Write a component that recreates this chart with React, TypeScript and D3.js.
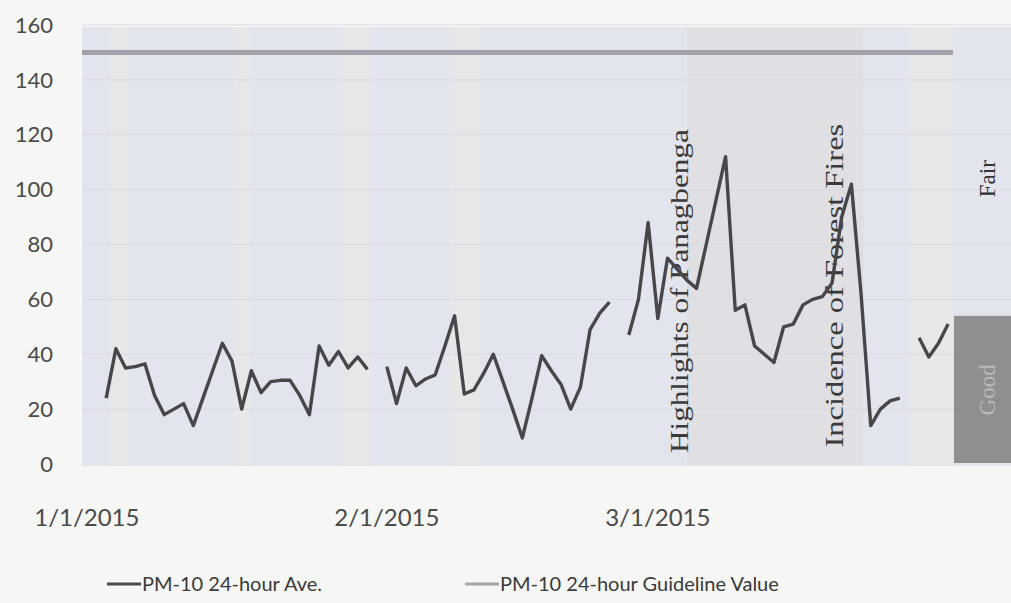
import { useEffect, useRef } from 'react';
import * as d3 from 'd3';

const DAY = 86400000;

// daily PM-10 24-hour averages, first value on Jan 3 2015 (null = no reading)
const firstReading = Date.UTC(2015, 0, 3);
const pm10Ave: (number | null)[] = [
  // Jan 3 - Jan 30
  24, 42, 35, 35.5, 36.5, 25, 18, 20, 22, 14, 24, 34, 44, 37.5, 20, 34, 26, 30, 30.5, 30.5,
  25, 18, 43, 36, 41, 35, 39, 34.5,
  null,
  // Feb 1 - Feb 24
  35.5, 22, 35, 28.5, 31, 32.5, 43, 54, 25.5, 27, 33, 40, 30, 20, 9.5, 24, 39.5, 34, 29, 20,
  28, 49, 55, 59,
  null,
  // Feb 26 - Mar 26
  47, 60, 88, 53, 75, 71, 67, 64, 80, 96, 112, 56, 58, 43, 40, 37, 50, 51, 58, 60,
  61, 66, 90, 102, 62, 14, 20, 23, 24,
  null,
  // Mar 28 - Mar 31
  46, 39, 44, 51,
];

const guidelineValue = 150;
const yTicks = [0, 20, 40, 60, 80, 100, 120, 140, 160];
const xTicks = [Date.UTC(2015, 0, 1), Date.UTC(2015, 1, 1), Date.UTC(2015, 2, 1)];

const annotations = [
  { label: 'Highlights of Panagbenga', date: Date.UTC(2015, 2, 4, 2), from: 4, to: 122 },
  { label: 'Incidence of Forest Fires', date: Date.UTC(2015, 2, 20, 2), from: 6, to: 124 },
];

const eventBand = [Date.UTC(2015, 2, 4), Date.UTC(2015, 2, 22, 6)];
const lightBands = [
  [Date.UTC(2015, 0, 3, 10), Date.UTC(2015, 0, 5, 5)],
  [Date.UTC(2015, 0, 16, 3), Date.UTC(2015, 0, 17, 22)],
  [Date.UTC(2015, 0, 27, 5), Date.UTC(2015, 0, 30, 10)],
  [Date.UTC(2015, 1, 7, 12), Date.UTC(2015, 1, 10, 14)],
  [Date.UTC(2015, 2, 27), Date.UTC(2015, 2, 31, 12)],
];

const aqBands = [
  { label: 'Good', lo: 0, hi: 54, fill: '#8f8f91', text: '#b9b9bb' },
  { label: 'Fair', lo: 54, hi: 154, fill: 'none', text: '#333333' },
];

const legendItems = [
  { label: 'PM-10 24-hour Ave.', color: '#4a4a4e', width: 3 },
  { label: 'PM-10 24-hour Guideline Value', color: '#a4a4ac', width: 3 },
];

export default function App() {
  const ref = useRef<SVGSVGElement | null>(null);

  useEffect(() => {
    if (!ref.current) return;
    const svg = d3.select(ref.current);
    svg.selectAll('*').remove();

    const width = 1011;
    const height = 603;

    const x = d3.scaleUtc()
      .domain([Date.UTC(2014, 11, 31, 12), Date.UTC(2015, 2, 31, 12)])
      .range([82, 953]);
    const y = d3.scaleLinear().domain([0, 160]).range([464, 25]);

    const points = pm10Ave.map((v, i) => ({ date: firstReading + i * DAY, value: v }));

    svg.append('rect').attr('width', width).attr('height', height).attr('fill', '#f6f6f4');

    // plot background
    svg.append('rect')
      .attr('x', x.range()[0])
      .attr('y', y(160) + 2)
      .attr('width', width - x.range()[0])
      .attr('height', y(0) - y(160))
      .attr('fill', '#e3e5ee');

    lightBands.forEach(([a, b]) => {
      svg.append('rect')
        .attr('x', x(a))
        .attr('y', y(160) + 2)
        .attr('width', x(b) - x(a))
        .attr('height', y(0) - y(160))
        .attr('fill', '#ebeae8')
        .attr('opacity', 0.55);
    });

    svg.append('rect')
      .attr('x', x(eventBand[0]))
      .attr('y', y(160) + 2)
      .attr('width', x(eventBand[1]) - x(eventBand[0]))
      .attr('height', y(0) - y(160))
      .attr('fill', '#dfdfe4');

    // faint gridlines
    svg.append('g')
      .selectAll('line')
      .data(yTicks.slice(1))
      .join('line')
      .attr('x1', x.range()[0])
      .attr('x2', width)
      .attr('y1', (d) => y(d))
      .attr('y2', (d) => y(d))
      .attr('stroke', '#d9dbe3')
      .attr('stroke-width', 1);

    // air quality bands at the right edge
    aqBands.forEach((b) => {
      const bx = x.range()[1] + 1;
      if (b.fill !== 'none') {
        svg.append('rect')
          .attr('x', bx)
          .attr('y', y(b.hi))
          .attr('width', width - bx)
          .attr('height', y(b.lo) - y(b.hi) - 1)
          .attr('fill', b.fill);
      }
      const cx = bx + 41;
      const cy = (y(b.lo) + y(b.hi)) / 2;
      svg.append('text')
        .attr('transform', `translate(${cx},${cy}) rotate(-90)`)
        .attr('text-anchor', 'middle')
        .attr('font-family', '"Liberation Serif", "Times New Roman", serif')
        .attr('font-size', 23)
        .attr('fill', b.text)
        .text(b.label);
    });

    // guideline
    svg.append('line')
      .attr('x1', x.range()[0])
      .attr('x2', x.range()[1])
      .attr('y1', y(guidelineValue))
      .attr('y2', y(guidelineValue))
      .attr('stroke', '#a2a2aa')
      .attr('stroke-width', 5);

    // event annotations
    annotations.forEach((a) => {
      const len = y(a.from) - y(a.to);
      svg.append('text')
        .attr('transform', `translate(${x(a.date)},${y(a.from)}) rotate(-90)`)
        .attr('font-family', '"Liberation Serif", "Times New Roman", serif')
        .attr('font-size', 25)
        .attr('fill', '#3a3a3a')
        .attr('textLength', len)
        .attr('lengthAdjust', 'spacingAndGlyphs')
        .text(a.label);
    });

    // PM-10 line
    const line = d3.line<{ date: number; value: number | null }>()
      .defined((d) => d.value !== null)
      .x((d) => x(d.date))
      .y((d) => y(d.value as number));

    svg.append('path')
      .datum(points)
      .attr('d', line)
      .attr('fill', 'none')
      .attr('stroke', '#47474b')
      .attr('stroke-width', 3.4)
      .attr('stroke-linejoin', 'round');

    // y axis labels
    svg.append('g')
      .selectAll('text')
      .data(yTicks)
      .join('text')
      .attr('x', 53)
      .attr('y', (d) => y(d))
      .attr('dy', '0.35em')
      .attr('text-anchor', 'end')
      .attr('font-family', 'Lato, sans-serif')
      .attr('font-size', 22)
      .attr('fill', '#4a4a4a')
      .text((d) => d);

    // x axis labels
    const fmt = d3.utcFormat('%-m/%-d/%Y');
    svg.append('g')
      .selectAll('text')
      .data(xTicks)
      .join('text')
      .attr('x', (d) => x(d))
      .attr('y', 526)
      .attr('text-anchor', 'middle')
      .attr('font-family', 'Lato, sans-serif')
      .attr('font-size', 24)
      .attr('fill', '#4a4a4a')
      .text((d) => fmt(new Date(d)));

    // legend
    const legendX = [107, 465];
    legendItems.forEach((item, i) => {
      const row = svg.append('g').attr('transform', `translate(${legendX[i]},584)`);
      row.append('line')
        .attr('x1', 0)
        .attr('x2', 34)
        .attr('stroke', item.color)
        .attr('stroke-width', item.width);
      row.append('text')
        .attr('x', 35)
        .attr('dy', '0.35em')
        .attr('font-family', 'Lato, sans-serif')
        .attr('font-size', 20)
        .attr('fill', '#3a3a3a')
        .text(item.label);
    });
  }, []);

  return (
    <svg
      ref={ref}
      width={1011}
      height={603}
      style={{ position: 'absolute', left: 0, top: 0, display: 'block' }}
    ></svg>
  );
}
